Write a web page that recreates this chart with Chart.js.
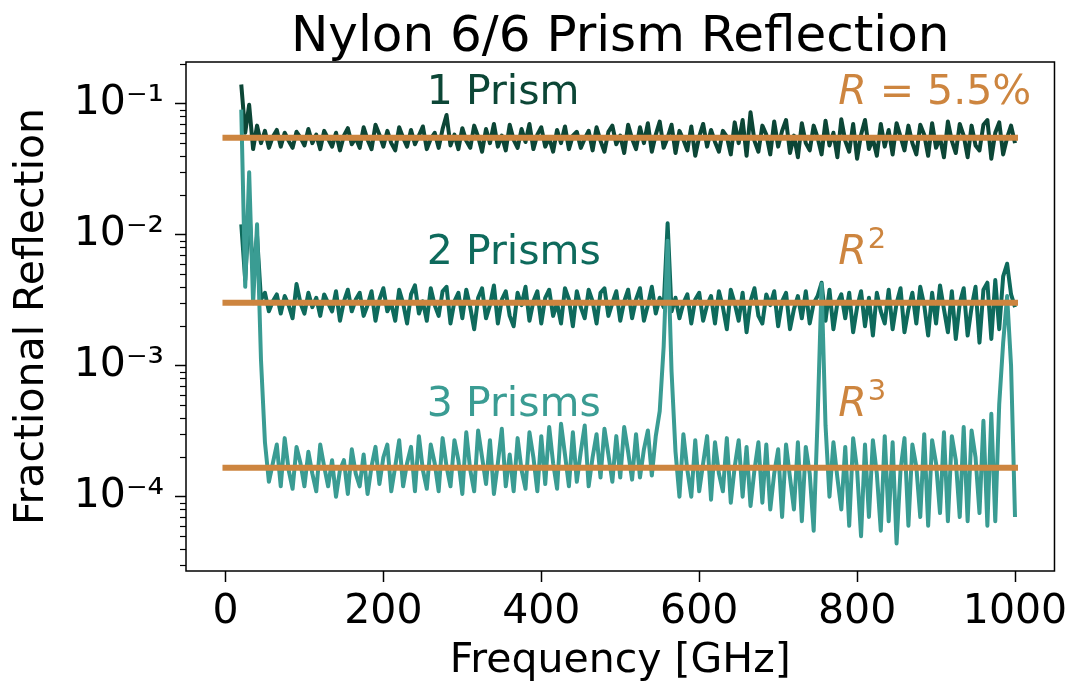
<!DOCTYPE html>
<html>
<head>
<meta charset="utf-8">
<title>Nylon 6/6 Prism Reflection</title>
<script src="https://cdn.jsdelivr.net/npm/chart.js@4.4.1/dist/chart.umd.min.js"></script>
<style>
  html, body { margin: 0; padding: 0; background: #fff; }
  canvas { display: block; }
</style>
</head>
<body>
<canvas id="grafico" width="1074" height="684"></canvas>
<script>
// frequenze campionate (GHz)
const freqGHz = [
  20, 25, 30, 35, 40, 45, 50, 55, 60, 65,
  70, 75, 80, 85, 90, 95, 100, 105, 110, 115,
  120, 125, 130, 135, 140, 145, 150, 155, 160, 165,
  170, 175, 180, 185, 190, 195, 200, 205, 210, 215,
  220, 225, 230, 235, 240, 245, 250, 255, 260, 265,
  270, 275, 280, 285, 290, 295, 300, 305, 310, 315,
  320, 325, 330, 335, 340, 345, 350, 355, 360, 365,
  370, 375, 380, 385, 390, 395, 400, 405, 410, 415,
  420, 425, 430, 435, 440, 445, 450, 455, 460, 465,
  470, 475, 480, 485, 490, 495, 500, 505, 510, 515,
  520, 525, 530, 535, 540, 545, 550, 555, 560, 565,
  570, 575, 580, 585, 590, 595, 600, 605, 610, 615,
  620, 625, 630, 635, 640, 645, 650, 655, 660, 665,
  670, 675, 680, 685, 690, 695, 700, 705, 710, 715,
  720, 725, 730, 735, 740, 745, 750, 755, 760, 765,
  770, 775, 780, 785, 790, 795, 800, 805, 810, 815,
  820, 825, 830, 835, 840, 845, 850, 855, 860, 865,
  870, 875, 880, 885, 890, 895, 900, 905, 910, 915,
  920, 925, 930, 935, 940, 945, 950, 955, 960, 965,
  970, 975, 980, 985, 990, 995, 1000
];

// riflessione misurata - 1 prisma
const onePrism = [
  0.14, 0.06, 0.098, 0.045, 0.068, 0.05, 0.062, 0.046, 0.056, 0.063,
  0.047, 0.06, 0.052, 0.046, 0.061, 0.055, 0.048, 0.064, 0.05, 0.058,
  0.045, 0.062, 0.054, 0.047, 0.06, 0.044, 0.057, 0.065, 0.049, 0.055,
  0.046, 0.066, 0.053, 0.045, 0.069, 0.058, 0.047, 0.062, 0.05, 0.044,
  0.066, 0.055, 0.047, 0.063, 0.049, 0.057, 0.067, 0.045, 0.054, 0.06,
  0.046, 0.064, 0.082, 0.048, 0.058, 0.045, 0.065, 0.052, 0.046, 0.068,
  0.056, 0.043, 0.064, 0.05, 0.07, 0.047, 0.057, 0.044, 0.069, 0.053,
  0.046, 0.064, 0.051, 0.07, 0.045, 0.058, 0.066, 0.047, 0.055, 0.043,
  0.063, 0.05, 0.067, 0.045, 0.057, 0.061, 0.046, 0.054, 0.062, 0.044,
  0.066, 0.052, 0.043, 0.061, 0.068, 0.049, 0.057, 0.042, 0.069, 0.054,
  0.045, 0.066, 0.05, 0.071, 0.043, 0.058, 0.073, 0.046, 0.055, 0.069,
  0.042, 0.062, 0.053, 0.044, 0.067, 0.04, 0.056, 0.07, 0.047, 0.063,
  0.051, 0.043, 0.062, 0.056, 0.041, 0.072, 0.05, 0.075, 0.04, 0.086,
  0.052, 0.043, 0.068, 0.058, 0.041, 0.073, 0.047, 0.062, 0.075, 0.042,
  0.057, 0.039, 0.071, 0.05, 0.044, 0.068, 0.055, 0.041, 0.074, 0.048,
  0.06, 0.039, 0.076, 0.052, 0.043, 0.07, 0.038, 0.058, 0.075, 0.045,
  0.054, 0.04, 0.07, 0.047, 0.063, 0.041, 0.071, 0.056, 0.044, 0.068,
  0.05, 0.041, 0.069, 0.058, 0.04, 0.071, 0.046, 0.055, 0.039, 0.073,
  0.052, 0.042, 0.07, 0.057, 0.039, 0.068, 0.048, 0.044, 0.069, 0.075,
  0.038, 0.06, 0.072, 0.041, 0.055, 0.068, 0.05
];

// riflessione misurata - 2 prismi
const twoPrisms = [
  0.012, 0.0045, 0.0155, 0.005, 0.0098, 0.0032, 0.0036, 0.0026, 0.0031, 0.0035,
  0.0025, 0.0034, 0.0029, 0.0023, 0.0042, 0.003, 0.0025, 0.0036, 0.0028, 0.0033,
  0.0024, 0.0035, 0.003, 0.0026, 0.0037, 0.0022, 0.0031, 0.0038, 0.0026, 0.0032,
  0.0036, 0.0024, 0.0029, 0.0037, 0.0022, 0.0032, 0.0039, 0.0026, 0.003, 0.0022,
  0.0038, 0.003, 0.0021, 0.0035, 0.0041, 0.0025, 0.0031, 0.0022, 0.0039, 0.0029,
  0.0024, 0.0037, 0.004, 0.0021, 0.0031, 0.0036, 0.0023, 0.0038, 0.0028, 0.0019,
  0.0033, 0.0039, 0.0023, 0.0029, 0.0041, 0.0021, 0.0032, 0.0037, 0.0024, 0.002,
  0.0036, 0.0029, 0.004, 0.0022, 0.0031, 0.0037, 0.0021, 0.0033, 0.0038, 0.0024,
  0.003, 0.0021, 0.0039, 0.0032, 0.002, 0.0037, 0.0028, 0.0023, 0.0038, 0.0031,
  0.0021, 0.0036, 0.0039, 0.0024, 0.003, 0.0037, 0.0022, 0.0031, 0.0038, 0.0023,
  0.0032, 0.0039, 0.0022, 0.0029, 0.004, 0.0025, 0.0033, 0.0028, 0.0122, 0.0026,
  0.0033, 0.0023, 0.003, 0.0035, 0.0021, 0.0032, 0.0036, 0.0022, 0.0029, 0.0034,
  0.0021, 0.0037, 0.0028, 0.0019, 0.0038, 0.003, 0.0022, 0.0036, 0.0018, 0.0031,
  0.0039, 0.0024, 0.0021, 0.0035, 0.0029, 0.0037, 0.002, 0.0031, 0.0036, 0.0019,
  0.0027, 0.0034, 0.0023, 0.0037, 0.0021, 0.003, 0.0034, 0.0043, 0.0022, 0.0038,
  0.0019, 0.003, 0.0035, 0.0023, 0.0036, 0.0018, 0.0028, 0.0037, 0.002, 0.0033,
  0.0017, 0.0036, 0.0026, 0.0021, 0.0038, 0.0019, 0.003, 0.0039, 0.0018, 0.0027,
  0.0036, 0.0021, 0.004, 0.0029, 0.0017, 0.0036, 0.0021, 0.0041, 0.0027, 0.0018,
  0.0037, 0.0016, 0.003, 0.0039, 0.0017, 0.0028, 0.004, 0.0015, 0.0038, 0.0043,
  0.0016, 0.0045, 0.0019, 0.0048, 0.006, 0.0035, 0.0028
];

// riflessione misurata - 3 prismi
const threePrisms = [
  0.09, 0.004, 0.03, 0.003, 0.012, 0.0011, 2.6e-4, 1.3e-4, 1.8e-4, 2.5e-4,
  1.2e-4, 2.8e-4, 1.6e-4, 1.15e-4, 2.4e-4, 1.8e-4, 1.2e-4, 2.2e-4, 1.5e-4, 1.1e-4,
  2.5e-4, 1.7e-4, 1.2e-4, 1.9e-4, 1.0e-4, 1.6e-4, 1.9e-4, 1.05e-4, 2.3e-4, 1.5e-4,
  1.2e-4, 2.1e-4, 1.05e-4, 1.7e-4, 2.4e-4, 1.25e-4, 2.0e-4, 2.5e-4, 1.1e-4, 1.7e-4,
  2.7e-4, 1.2e-4, 1.8e-4, 2.4e-4, 1.1e-4, 2.9e-4, 1.6e-4, 1.15e-4, 2.5e-4, 1.8e-4,
  1.1e-4, 2.8e-4, 1.7e-4, 1.2e-4, 2.7e-4, 1.9e-4, 1.05e-4, 3.1e-4, 1.6e-4, 1.1e-4,
  3.2e-4, 2.0e-4, 1.25e-4, 2.7e-4, 1.05e-4, 1.8e-4, 3.3e-4, 1.2e-4, 2.1e-4, 1.1e-4,
  2.8e-4, 1.6e-4, 1.15e-4, 3.1e-4, 2.0e-4, 1.1e-4, 2.9e-4, 1.25e-4, 3.4e-4, 1.8e-4,
  1.15e-4, 3.6e-4, 2.1e-4, 1.2e-4, 3.1e-4, 1.3e-4, 2.2e-4, 3.5e-4, 1.2e-4, 2.0e-4,
  3.0e-4, 1.4e-4, 3.3e-4, 2.1e-4, 1.3e-4, 2.9e-4, 1.4e-4, 3.4e-4, 2.2e-4, 1.35e-4,
  3.0e-4, 1.4e-4, 2.3e-4, 3.2e-4, 1.45e-4, 2.9e-4, 4.5e-4, 1.4e-3, 9.0e-3, 9.0e-4,
  2.2e-4, 1.0e-4, 3.0e-4, 1.6e-4, 1.0e-4, 2.7e-4, 1.1e-4, 1.8e-4, 2.9e-4, 9.5e-5,
  2.6e-4, 1.5e-4, 1.1e-4, 2.8e-4, 9.0e-5, 1.7e-4, 2.7e-4, 1.0e-4, 2.4e-4, 8.5e-5,
  1.6e-4, 2.6e-4, 9.0e-5, 2.5e-4, 8.0e-5, 1.5e-4, 2.3e-4, 7.0e-5, 2.5e-4, 1.4e-4,
  8.0e-5, 2.6e-4, 6.5e-5, 2.4e-4, 1.5e-4, 5.5e-5, 4.0e-4, 4.2e-3, 3.5e-4, 1.0e-4,
  2.6e-4, 1.4e-4, 8.0e-5, 2.4e-4, 6.0e-5, 2.8e-4, 1.6e-4, 5.0e-5, 2.5e-4, 7.0e-5,
  2.7e-4, 1.5e-4, 5.5e-5, 2.9e-4, 6.5e-5, 2.6e-4, 4.4e-5, 1.6e-4, 2.8e-4, 6.0e-5,
  2.5e-4, 1.7e-4, 7.0e-5, 3.0e-4, 6.0e-5, 2.7e-4, 1.8e-4, 7.5e-5, 3.1e-4, 6.5e-5,
  2.9e-4, 1.9e-4, 7.0e-5, 3.4e-4, 6.5e-5, 3.2e-4, 2.0e-4, 7.5e-5, 3.8e-4, 6.0e-5,
  4.3e-4, 6.5e-5, 5.1e-4, 1.5e-3, 3.4e-3, 1.0e-3, 7.0e-5
];

// livelli attesi R, R^2, R^3 con R = 5.5%
const modelLevels = [0.055, 0.003025, 0.000166];
const modelSpanGHz = [0, 1000];

// tick
const xTickValues = [0, 200, 400, 600, 800, 1000];
const xTickLabels = ["0", "200", "400", "600", "800", "1000"];
const yTickValues = [1e-4, 1e-3, 1e-2, 1e-1];
const yTickLabels = ["10\u207B\u2074", "10\u207B\u00B3", "10\u207B\u00B2", "10\u207B\u00B9"];

const titolo = "Nylon 6/6 Prism Reflection";
const FONT = '"DejaVu Sans", sans-serif';
const colore1 = "#0c4636";
const colore2 = "#0e6a5c";
const colore3 = "#3a9c93";
const peru = "#cd853f";

const punti = (vals) => vals.map((v, i) => ({ x: freqGHz[i], y: v }));

// testi dentro il grafico
const etichette = [
  { x: 255, y: 0.1, color: colore1, parts: [{ t: "1 Prism" }] },
  { x: 255, y: 0.006, color: colore2, parts: [{ t: "2 Prisms" }] },
  { x: 255, y: 0.00041, color: colore3, parts: [{ t: "3 Prisms" }] },
  { x: 776, y: 0.1, color: peru, parts: [{ t: "R", italic: true }, { t: " = 5.5%" }] },
  { x: 776, y: 0.006, color: peru, parts: [{ t: "R", italic: true }, { t: "2", sup: true }] },
  { x: 776, y: 0.00041, color: peru, parts: [{ t: "R", italic: true }, { t: "3", sup: true }] },
];

const extra = {
  id: "extra",
  afterDatasetsDraw(chart) {
    const { ctx, chartArea: a, scales } = chart;
    const x = scales.x, y = scales.y;
    ctx.save();

    // tick minori asse log
    ctx.strokeStyle = "#000";
    ctx.lineWidth = 1.2;
    for (let n = -5; n <= 0; n++) {
      for (let k = 2; k <= 9; k++) {
        const v = k * Math.pow(10, n);
        if (v < y.min || v > y.max) continue;
        const py = Math.round(y.getPixelForValue(v)) + 0.5;
        ctx.beginPath();
        ctx.moveTo(a.left - 6, py);
        ctx.lineTo(a.left, py);
        ctx.stroke();
      }
    }

    // cornice
    ctx.lineWidth = 1.5;
    ctx.strokeRect(a.left, a.top, a.right - a.left, a.bottom - a.top);

    // titolo centrato sull'area del grafico
    ctx.fillStyle = "#000";
    ctx.font = "50px " + FONT;
    ctx.textAlign = "center";
    ctx.textBaseline = "alphabetic";
    ctx.fillText(titolo, (a.left + a.right) / 2, a.top - 11);

    // testi
    ctx.textAlign = "left";
    etichette.forEach((e) => {
      let px = x.getPixelForValue(e.x);
      const py = y.getPixelForValue(e.y);
      ctx.fillStyle = e.color;
      e.parts.forEach((p) => {
        if (p.sup) {
          ctx.font = "29px " + FONT;
          ctx.fillText(p.t, px + 1, py - 16);
          px += ctx.measureText(p.t).width + 1;
        } else {
          ctx.font = (p.italic ? "italic " : "") + "41px " + FONT;
          ctx.fillText(p.t, px, py);
          px += ctx.measureText(p.t).width;
        }
      });
    });
    ctx.restore();
  },
};

const serie = [
  { dati: threePrisms, colore: colore3, ordine: 1 },
  { dati: twoPrisms, colore: colore2, ordine: 2 },
  { dati: onePrism, colore: colore1, ordine: 3 },
];

const datasets = serie.map((s) => ({
  data: punti(s.dati),
  borderColor: s.colore,
  borderWidth: 4,
  borderJoinStyle: "round",
  pointRadius: 0,
  tension: 0,
  fill: false,
  order: s.ordine,
}));

modelLevels.forEach((lv) => {
  datasets.push({
    data: modelSpanGHz.map((f) => ({ x: f, y: lv })),
    borderColor: peru,
    borderWidth: 6,
    borderCapStyle: "square",
    pointRadius: 0,
    fill: false,
    order: 0,
  });
});

new Chart(document.getElementById("grafico").getContext("2d"), {
  type: "line",
  data: { datasets },
  options: {
    responsive: false,
    animation: false,
    events: [],
    layout: { padding: { left: 0, right: 18, top: 62, bottom: 0 } },
    plugins: {
      legend: { display: false },
      tooltip: { enabled: false },
      title: { display: false },
    },
    scales: {
      x: {
        type: "linear",
        min: -50,
        max: 1050,
        afterBuildTicks: (s) => {
          s.ticks = xTickValues.map((v) => ({ value: v }));
        },
        afterFit: (s) => {
          s.height = 113;
        },
        border: { display: false },
        grid: { drawOnChartArea: false, drawTicks: true, tickLength: 11, tickWidth: 1.5, tickColor: "#000" },
        ticks: {
          autoSkip: false,
          maxRotation: 0,
          color: "#000",
          font: { family: FONT, size: 41 },
          padding: 6,
          callback: (v) => {
            const i = xTickValues.indexOf(v);
            return i >= 0 ? xTickLabels[i] : "";
          },
        },
        title: {
          display: true,
          text: "Frequency [GHz]",
          color: "#000",
          font: { family: FONT, size: 41, lineHeight: 1.1 },
          padding: { top: 0, bottom: 0 },
        },
      },
      y: {
        type: "logarithmic",
        min: 2.71e-5,
        max: 0.208,
        afterBuildTicks: (s) => {
          s.ticks = yTickValues.map((v) => ({ value: v }));
        },
        afterFit: (s) => {
          s.width = 186;
        },
        border: { display: false },
        grid: { drawOnChartArea: false, drawTicks: true, tickLength: 11, tickWidth: 1.5, tickColor: "#000" },
        ticks: {
          color: "#000",
          font: { family: FONT, size: 41 },
          padding: 11,
          callback: (v) => {
            const i = yTickValues.findIndex((t) => Math.abs(t - v) / t < 1e-6);
            return i >= 0 ? yTickLabels[i] : "";
          },
        },
        title: {
          display: true,
          text: "Fractional Reflection",
          color: "#000",
          font: { family: FONT, size: 41, lineHeight: 1.1 },
          padding: { top: 10, bottom: 0 },
        },
      },
    },
  },
  plugins: [extra],
});
</script>
</body>
</html>
